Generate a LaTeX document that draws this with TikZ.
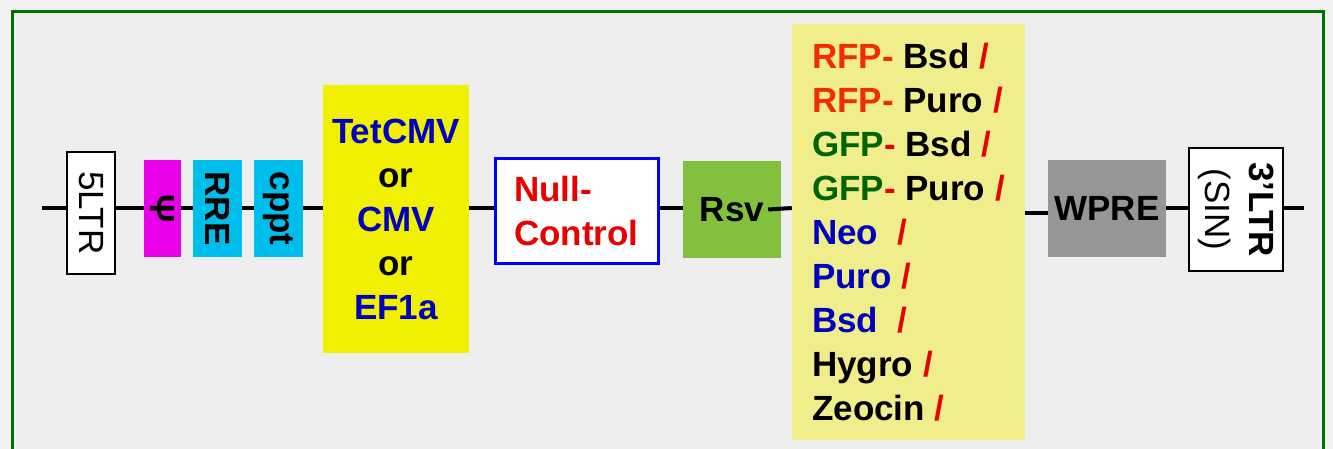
\documentclass[tikz,border=0pt]{standalone}
\usepackage{fontspec}
\setmainfont{Liberation Sans}
\usetikzlibrary{calc}
\definecolor{pagegray}{RGB}{242,242,242}
\definecolor{bggray}{RGB}{238,238,238}
\definecolor{framegreen}{RGB}{0,112,0}
\definecolor{psimag}{RGB}{232,0,232}
\definecolor{rrecyan}{RGB}{0,190,235}
\definecolor{promyellow}{RGB}{240,240,0}
\definecolor{listyellow}{RGB}{240,238,140}
\definecolor{rsvgreen}{RGB}{130,192,62}
\definecolor{wpregray}{RGB}{150,150,150}
\definecolor{textblue}{RGB}{0,0,190}
\definecolor{nullblue}{RGB}{0,0,255}
\definecolor{nullred}{RGB}{235,0,0}
\definecolor{rfpred}{RGB}{240,45,0}
\definecolor{gfpgreen}{RGB}{0,100,0}
\definecolor{slashred}{RGB}{235,0,0}

\begin{document}
\begin{tikzpicture}[x=1pt,y=-1pt,
  every node/.style={font=\fontsize{35}{44}\selectfont\bfseries,inner sep=0pt},
  wire/.style={line width=4pt},
  elem/.style={fill=#1,minimum height=97},
  ltrbox/.style={draw,fill=white,line width=2.5pt}]
  \useasboundingbox (0,0) rectangle (1333,449);
  % background and frame
  \fill[pagegray] (0,0) rectangle (1333,449);
  \fill[bggray] (12,12) rectangle (1323,449);
  \draw[framegreen,line width=3pt] (12,449) -- (12,12) -- (1323,12) -- (1323,449);
  % ends of the backbone
  \coordinate (lend) at (42,208);
  \coordinate (rend) at (1304,208);
  \coordinate (wy) at (0,213);
  % 5' side (rotated: south is the left edge, north the right one)
  \node[ltrbox,rotate=-90,minimum width=122,minimum height=48,
    font=\fontsize{35}{44}\selectfont] (ltr5) at (91,213) {5LTR};
  \node[elem=psimag,rotate=-90,minimum width=97,minimum height=37] (psi) at (162.5,208.5) {Ψ};
  \node[elem=rrecyan,rotate=-90,minimum width=97,minimum height=49] (rre) at (217.5,208.5) {RRE};
  \node[elem=rrecyan,rotate=-90,minimum width=97,minimum height=49] (cppt) at (278.5,208.5) {cppt};
  % promoter
  \node[fill=promyellow,minimum width=146,minimum height=268,align=center] (prom) at (396,219)
    {\textcolor{textblue}{TetCMV}\\or\\\textcolor{textblue}{CMV}\\or\\\textcolor{textblue}{EF1a}};
  \node[draw=nullblue,fill=white,line width=3pt,minimum width=163,minimum height=105,
    align=left,text=nullred] (null) at (576.5,211) {Null-\\Control};
  \node[elem=rsvgreen,minimum width=98] (rsv) at (732,209.5) {Rsv};
  % selection markers
  \node[fill=listyellow,minimum width=233,minimum height=416,align=left] (list) at (908.5,232)
    {\textcolor{rfpred}{RFP-} Bsd \textcolor{slashred}{/}\\
     \textcolor{rfpred}{RFP-} Puro \textcolor{slashred}{/}\\
     \textcolor{gfpgreen}{GFP}\textcolor{slashred}{-} Bsd \textcolor{slashred}{/}\\
     \textcolor{gfpgreen}{GFP}\textcolor{slashred}{-} Puro \textcolor{slashred}{/}\\
     \textcolor{textblue}{Neo}\ \ \textcolor{slashred}{/}\\
     \textcolor{textblue}{Puro} \textcolor{slashred}{/}\\
     \textcolor{textblue}{Bsd}\ \ \textcolor{slashred}{/}\\
     Hygro \textcolor{slashred}{/}\\
     Zeocin \textcolor{slashred}{/}};
  % 3' side
  \node[elem=wpregray,minimum width=118] (wpre) at (1107,208.5) {WPRE};
  \node[ltrbox,rotate=-90,minimum width=123,minimum height=94,align=center] (ltr3) at (1236,209.5)
    {3’LTR\\{\mdseries(SIN)}};
  % backbone
  \draw[wire] (lend) -- (lend -| ltr5.south);
  \foreach \a/\b in {ltr5.north/psi.south,psi.north/rre.south,rre.north/cppt.south,
    cppt.north/prom.west,prom.east/null.west,null.east/rsv.west,wpre.east/ltr3.south}
    \draw[wire] (\a |- lend) -- (\b |- lend);
  \draw[wire] ([xshift=-13pt]rsv.east) -- (list.west |- lend);
  \draw[wire] (list.east |- wy) -- (wpre.west |- wy);
  \draw[wire] (ltr3.north |- lend) -- (rend);
\end{tikzpicture}
\end{document}
